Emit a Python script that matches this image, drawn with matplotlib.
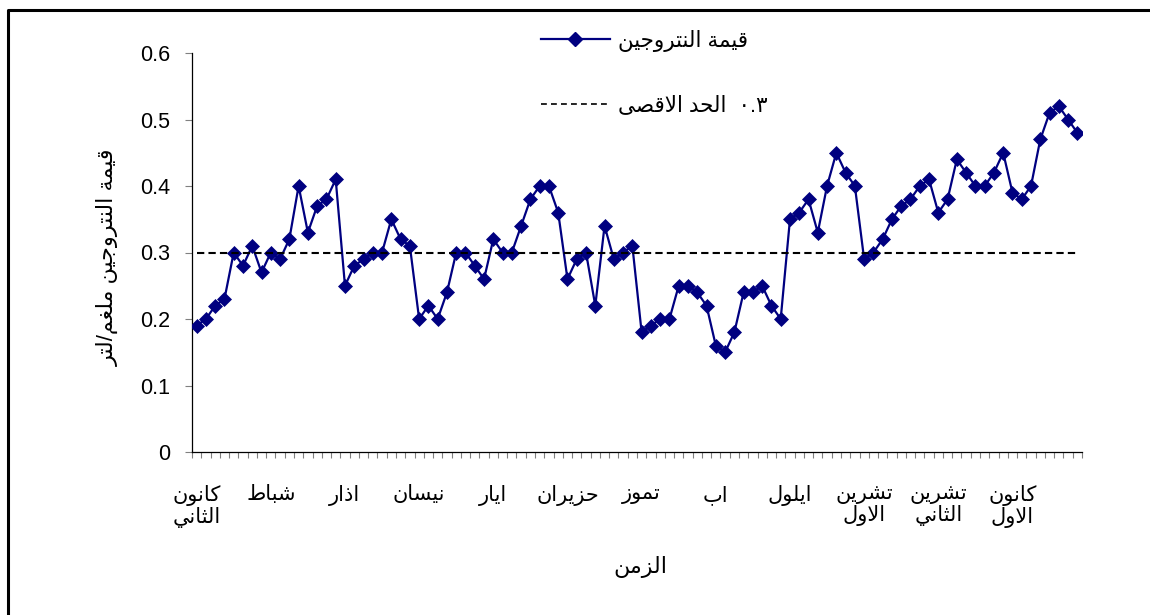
import matplotlib
matplotlib.use("Agg")
import matplotlib.pyplot as plt
from matplotlib.lines import Line2D
import numpy as np

plt.rcParams['font.family'] = ['Liberation Sans', 'DejaVu Sans']

# nitrogen readings, 8 per month, Jan -> Dec
nitrogen = [0.19, 0.20, 0.22, 0.23, 0.30, 0.28, 0.31, 0.27, 0.30, 0.29,
            0.32, 0.40, 0.33, 0.37, 0.38, 0.41, 0.25, 0.28, 0.29, 0.30,
            0.30, 0.35, 0.32, 0.31, 0.20, 0.22, 0.20, 0.24, 0.30, 0.30,
            0.28, 0.26, 0.32, 0.30, 0.30, 0.34, 0.38, 0.40, 0.40, 0.36,
            0.26, 0.29, 0.30, 0.22, 0.34, 0.29, 0.30, 0.31, 0.18, 0.19,
            0.20, 0.20, 0.25, 0.25, 0.24, 0.22, 0.16, 0.15, 0.18, 0.24,
            0.24, 0.25, 0.22, 0.20, 0.35, 0.36, 0.38, 0.33, 0.40, 0.45,
            0.42, 0.40, 0.29, 0.30, 0.32, 0.35, 0.37, 0.38, 0.40, 0.41,
            0.36, 0.38, 0.44, 0.42, 0.40, 0.40, 0.42, 0.45, 0.39, 0.38,
            0.40, 0.47, 0.51, 0.52, 0.50, 0.48]
limit = 0.3
per_month = 8
months = ["كانون\nالثاني", "شباط", "اذار", "نيسان", "ايار", "حزيران",
          "تموز", "اب", "ايلول", "تشرين\nالاول", "تشرين\nالثاني", "كانون\nالاول"]
y_ticks = [0, 0.1, 0.2, 0.3, 0.4, 0.5, 0.6]
series_name = "قيمة النتروجين"
limit_name = "الحد الاقصى"
limit_text = "٠.٣"
y_label = "قيمة النتروجين ملغم/لتر"
x_label = "الزمن"

# matplotlib does no Arabic shaping / bidi, so pick presentation forms by hand
DUAL = {'ب': 0xFE8F, 'ت': 0xFE95, 'ث': 0xFE99, 'ج': 0xFE9D, 'ح': 0xFEA1,
        'خ': 0xFEA5, 'س': 0xFEB1, 'ش': 0xFEB5, 'ص': 0xFEB9, 'ض': 0xFEBD,
        'ط': 0xFEC1, 'ظ': 0xFEC5, 'ع': 0xFEC9, 'غ': 0xFECD, 'ف': 0xFED1,
        'ق': 0xFED5, 'ك': 0xFED9, 'ل': 0xFEDD, 'م': 0xFEE1, 'ن': 0xFEE5,
        'ه': 0xFEE9, 'ي': 0xFEF1}
RIGHT = {'ا': 0xFE8D, 'ة': 0xFE93, 'د': 0xFEA9, 'ذ': 0xFEAB, 'ر': 0xFEAD,
         'ز': 0xFEAF, 'و': 0xFEED, 'ى': 0xFEEF}


def shape(s):
    out = []
    i = 0
    while i < len(s):
        c = s[i]
        prev = s[i - 1] if i > 0 else ''
        nxt = s[i + 1] if i + 1 < len(s) else ''
        jp = prev in DUAL and (c in DUAL or c in RIGHT)
        if c == 'ل' and nxt == 'ا':  # lam-alef ligature
            out.append(chr(0xFEFC if jp else 0xFEFB))
            i += 2
            continue
        if c in DUAL:
            jn = nxt in DUAL or nxt in RIGHT
            out.append(chr(DUAL[c] + (3 if jp and jn else 1 if jp else 2 if jn else 0)))
        elif c in RIGHT:
            out.append(chr(RIGHT[c] + (1 if jp else 0)))
        else:
            out.append(c)
        i += 1
    return ''.join(out)


def ar(text):
    return '\n'.join(shape(line)[::-1] for line in text.split('\n'))


W, H = 1150, 615
fig = plt.figure(figsize=(W / 100, H / 100), dpi=100)
ax = fig.add_axes([192 / W, 1 - 452 / H, (1082 - 192) / W, (452 - 53) / H])

navy = '#000080'
x = np.arange(len(nitrogen))
ax.plot(x, nitrogen, color=navy, lw=1.6, marker='D', ms=7, mec=navy, mew=0.5, zorder=3)
ax.plot(x, [limit] * len(x), color='black', lw=1.5, dashes=(3.5, 2), zorder=4)

ax.set_xlim(-0.5, len(nitrogen) - 0.5)
ax.set_ylim(0, 0.6)
ax.set_yticks(y_ticks)
ax.set_yticklabels([f"{v:g}" for v in y_ticks])
ax.tick_params(axis='y', length=5, width=0.8, color='#808080', pad=11, labelsize=15.5)

ax.set_xticks(np.arange(0, len(nitrogen), per_month))
ax.set_xticklabels([ar(m) for m in months], fontsize=15, linespacing=1.05)
ax.tick_params(axis='x', which='major', length=0, pad=24)
ax.set_xticks(np.arange(-0.5, len(nitrogen)), minor=True)
ax.tick_params(axis='x', which='minor', length=4, width=0.8, color='#808080')

for s in ['top', 'right']:
    ax.spines[s].set_visible(False)
for s in ['left', 'bottom']:
    ax.spines[s].set_linewidth(0.9)

handles = [Line2D([], [], color=navy, lw=1.6, marker='D', ms=7, mec=navy),
           Line2D([], [], color='black', lw=1.2, dashes=(3.5, 2.5))]
labels = [ar(series_name), ar(limit_name) + "  " + limit_text]
fig.legend(handles, labels, loc='upper left', bbox_to_anchor=(541 / W, 1 - 30 / H),
           frameon=False, fontsize=15.5, handlelength=3.2, handletextpad=0.4,
           labelspacing=2.0, borderpad=0, borderaxespad=0)

fig.text(108 / W, 1 - 257 / H, ar(y_label), rotation=90, ha='center', va='center', fontsize=16)
fig.text(640 / W, 1 - 567 / H, ar(x_label), ha='center', va='center', fontsize=16)

# outer chart frame (left and top edges visible)
fig.add_artist(Line2D([8 / W, 8 / W, 1.01], [-0.01, 1 - 10 / H, 1 - 10 / H],
                      transform=fig.transFigure, color='black', lw=2.2))

fig.savefig("out.png", dpi=100)
